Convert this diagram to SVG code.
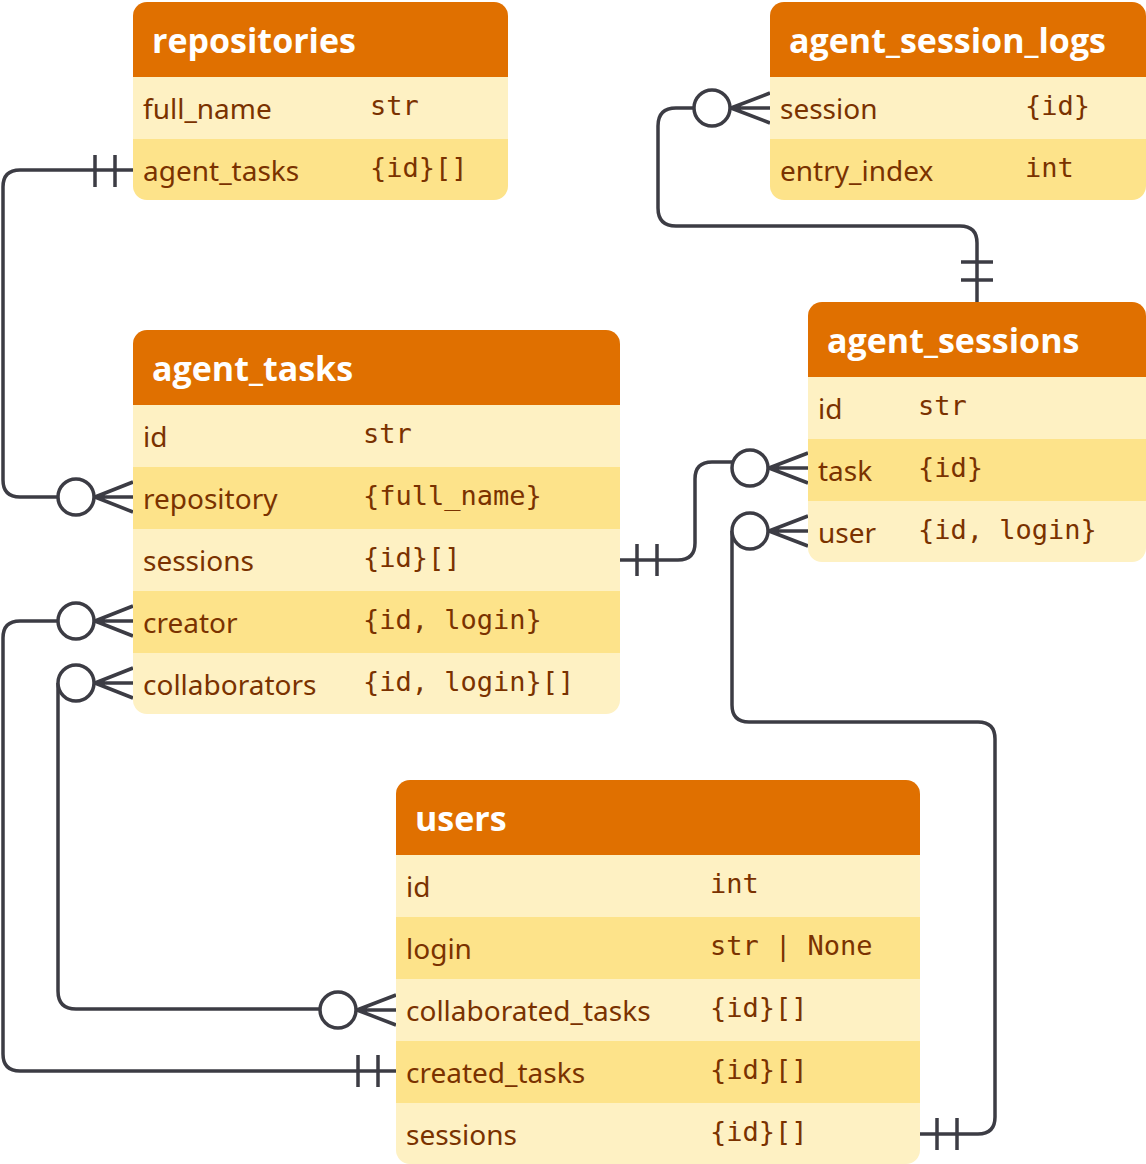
<svg xmlns="http://www.w3.org/2000/svg" width="1146" height="1164" viewBox="0 0 1146 1164">
<style>
.h{fill:#E07000}.a{fill:#FEF1C3}.b{fill:#FDE38A}
.ht{font-family:"Open Sans","Noto Sans",sans-serif;font-weight:bold;font-size:34px;fill:#fff}
.t{font-family:"Noto Sans","Open Sans",sans-serif;font-size:28px;fill:#7A3200}
.m{font-family:"DejaVu Sans Mono","Liberation Mono",monospace;font-size:27px;fill:#7A3200}
.c{fill:none;stroke:#3C3C44;stroke-width:3.5;stroke-linejoin:round}
.o{fill:#fff;stroke:#3C3C44;stroke-width:3.5}
</style>
<defs>
<clipPath id="c1"><rect x="133" y="2" width="375" height="198" rx="14"/></clipPath>
<clipPath id="c2"><rect x="770" y="2" width="376" height="198" rx="14"/></clipPath>
<clipPath id="c3"><rect x="808" y="302" width="338" height="260" rx="14"/></clipPath>
<clipPath id="c4"><rect x="133" y="330" width="487" height="384" rx="14"/></clipPath>
<clipPath id="c5"><rect x="396" y="780" width="524" height="384" rx="14"/></clipPath>
</defs>
<g id="connectors">
<path class="c" d="M133,170 H20 Q3,170 3,187 V480 Q3,497 20,497 H58 M95,497 L133,482 M95,497 H133 M95,497 L133,512 M95,155 V187 M115,155 V187"/>
<circle class="o" cx="76" cy="497" r="18"/>
<path class="c" d="M694,108 H676 Q658,108 658,126 V208 Q658,226 676,226 H960 Q977,226 977,243 V302 M731,108 L770,93 M731,108 H770 M731,108 L770,123 M961,262 H993 M961,280 H993"/>
<circle class="o" cx="712" cy="108" r="18"/>
<path class="c" d="M620,560 H678 Q695,560 695,543 V479 Q695,462 712,462 H732 M769,468 L808,453 M769,468 H808 M769,468 L808,483 M637,544 V576 M657,544 V576"/>
<circle class="o" cx="750" cy="468" r="18"/>
<path class="c" d="M732,531 V705 Q732,722 749,722 H978 Q995,722 995,739 V1117 Q995,1134 978,1134 H920 M769,531 L808,516 M769,531 H808 M769,531 L808,546 M937,1118 V1150 M957,1118 V1150"/>
<circle class="o" cx="750" cy="531" r="18"/>
<path class="c" d="M58,621 H20 Q3,621 3,638 V1054 Q3,1071 20,1071 H396 M95,621 L133,606 M95,621 H133 M95,621 L133,636 M358,1055 V1087 M378,1055 V1087"/>
<circle class="o" cx="76" cy="621" r="18"/>
<path class="c" d="M58,683 V991 Q58,1009 76,1009 H320 M95,683 L133,668 M95,683 H133 M95,683 L133,698 M357,1010 L396,995 M357,1010 H396 M357,1010 L396,1025"/>
<circle class="o" cx="76" cy="683" r="18"/>
<circle class="o" cx="338" cy="1010" r="18"/>
</g>
<g id="repositories" clip-path="url(#c1)">
<rect class="h" x="133" y="2" width="375" height="75"/>
<rect class="a" x="133" y="77" width="375" height="62"/>
<rect class="b" x="133" y="139" width="375" height="61"/>
<text class="ht" x="152" y="53">repositories</text>
<text class="t" x="143" y="119">full_name</text><text class="m" x="370" y="115">str</text>
<text class="t" x="143" y="181">agent_tasks</text><text class="m" x="370" y="177">{id}[]</text>
</g>
<g id="agent_session_logs" clip-path="url(#c2)">
<rect class="h" x="770" y="2" width="376" height="75"/>
<rect class="a" x="770" y="77" width="376" height="62"/>
<rect class="b" x="770" y="139" width="376" height="61"/>
<text class="ht" x="789" y="53">agent_session_logs</text>
<text class="t" x="780" y="119">session</text><text class="m" x="1025" y="115">{id}</text>
<text class="t" x="780" y="181">entry_index</text><text class="m" x="1025" y="177">int</text>
</g>
<g id="agent_sessions" clip-path="url(#c3)">
<rect class="h" x="808" y="302" width="338" height="75"/>
<rect class="a" x="808" y="377" width="338" height="62"/>
<rect class="b" x="808" y="439" width="338" height="62"/>
<rect class="a" x="808" y="501" width="338" height="61"/>
<text class="ht" x="827" y="353">agent_sessions</text>
<text class="t" x="818" y="419">id</text><text class="m" x="918" y="415">str</text>
<text class="t" x="818" y="481">task</text><text class="m" x="918" y="477">{id}</text>
<text class="t" x="818" y="543">user</text><text class="m" x="918" y="539">{id, login}</text>
</g>
<g id="agent_tasks" clip-path="url(#c4)">
<rect class="h" x="133" y="330" width="487" height="75"/>
<rect class="a" x="133" y="405" width="487" height="62"/>
<rect class="b" x="133" y="467" width="487" height="62"/>
<rect class="a" x="133" y="529" width="487" height="62"/>
<rect class="b" x="133" y="591" width="487" height="62"/>
<rect class="a" x="133" y="653" width="487" height="61"/>
<text class="ht" x="152" y="381">agent_tasks</text>
<text class="t" x="143" y="447">id</text><text class="m" x="363" y="443">str</text>
<text class="t" x="143" y="509">repository</text><text class="m" x="363" y="505">{full_name}</text>
<text class="t" x="143" y="571">sessions</text><text class="m" x="363" y="567">{id}[]</text>
<text class="t" x="143" y="633">creator</text><text class="m" x="363" y="629">{id, login}</text>
<text class="t" x="143" y="695">collaborators</text><text class="m" x="363" y="691">{id, login}[]</text>
</g>
<g id="users" clip-path="url(#c5)">
<rect class="h" x="396" y="780" width="524" height="75"/>
<rect class="a" x="396" y="855" width="524" height="62"/>
<rect class="b" x="396" y="917" width="524" height="62"/>
<rect class="a" x="396" y="979" width="524" height="62"/>
<rect class="b" x="396" y="1041" width="524" height="62"/>
<rect class="a" x="396" y="1103" width="524" height="61"/>
<text class="ht" x="415" y="831">users</text>
<text class="t" x="406" y="897">id</text><text class="m" x="710" y="893">int</text>
<text class="t" x="406" y="959">login</text><text class="m" x="710" y="955">str | None</text>
<text class="t" x="406" y="1021">collaborated_tasks</text><text class="m" x="710" y="1017">{id}[]</text>
<text class="t" x="406" y="1083">created_tasks</text><text class="m" x="710" y="1079">{id}[]</text>
<text class="t" x="406" y="1145">sessions</text><text class="m" x="710" y="1141">{id}[]</text>
</g>
</svg>
